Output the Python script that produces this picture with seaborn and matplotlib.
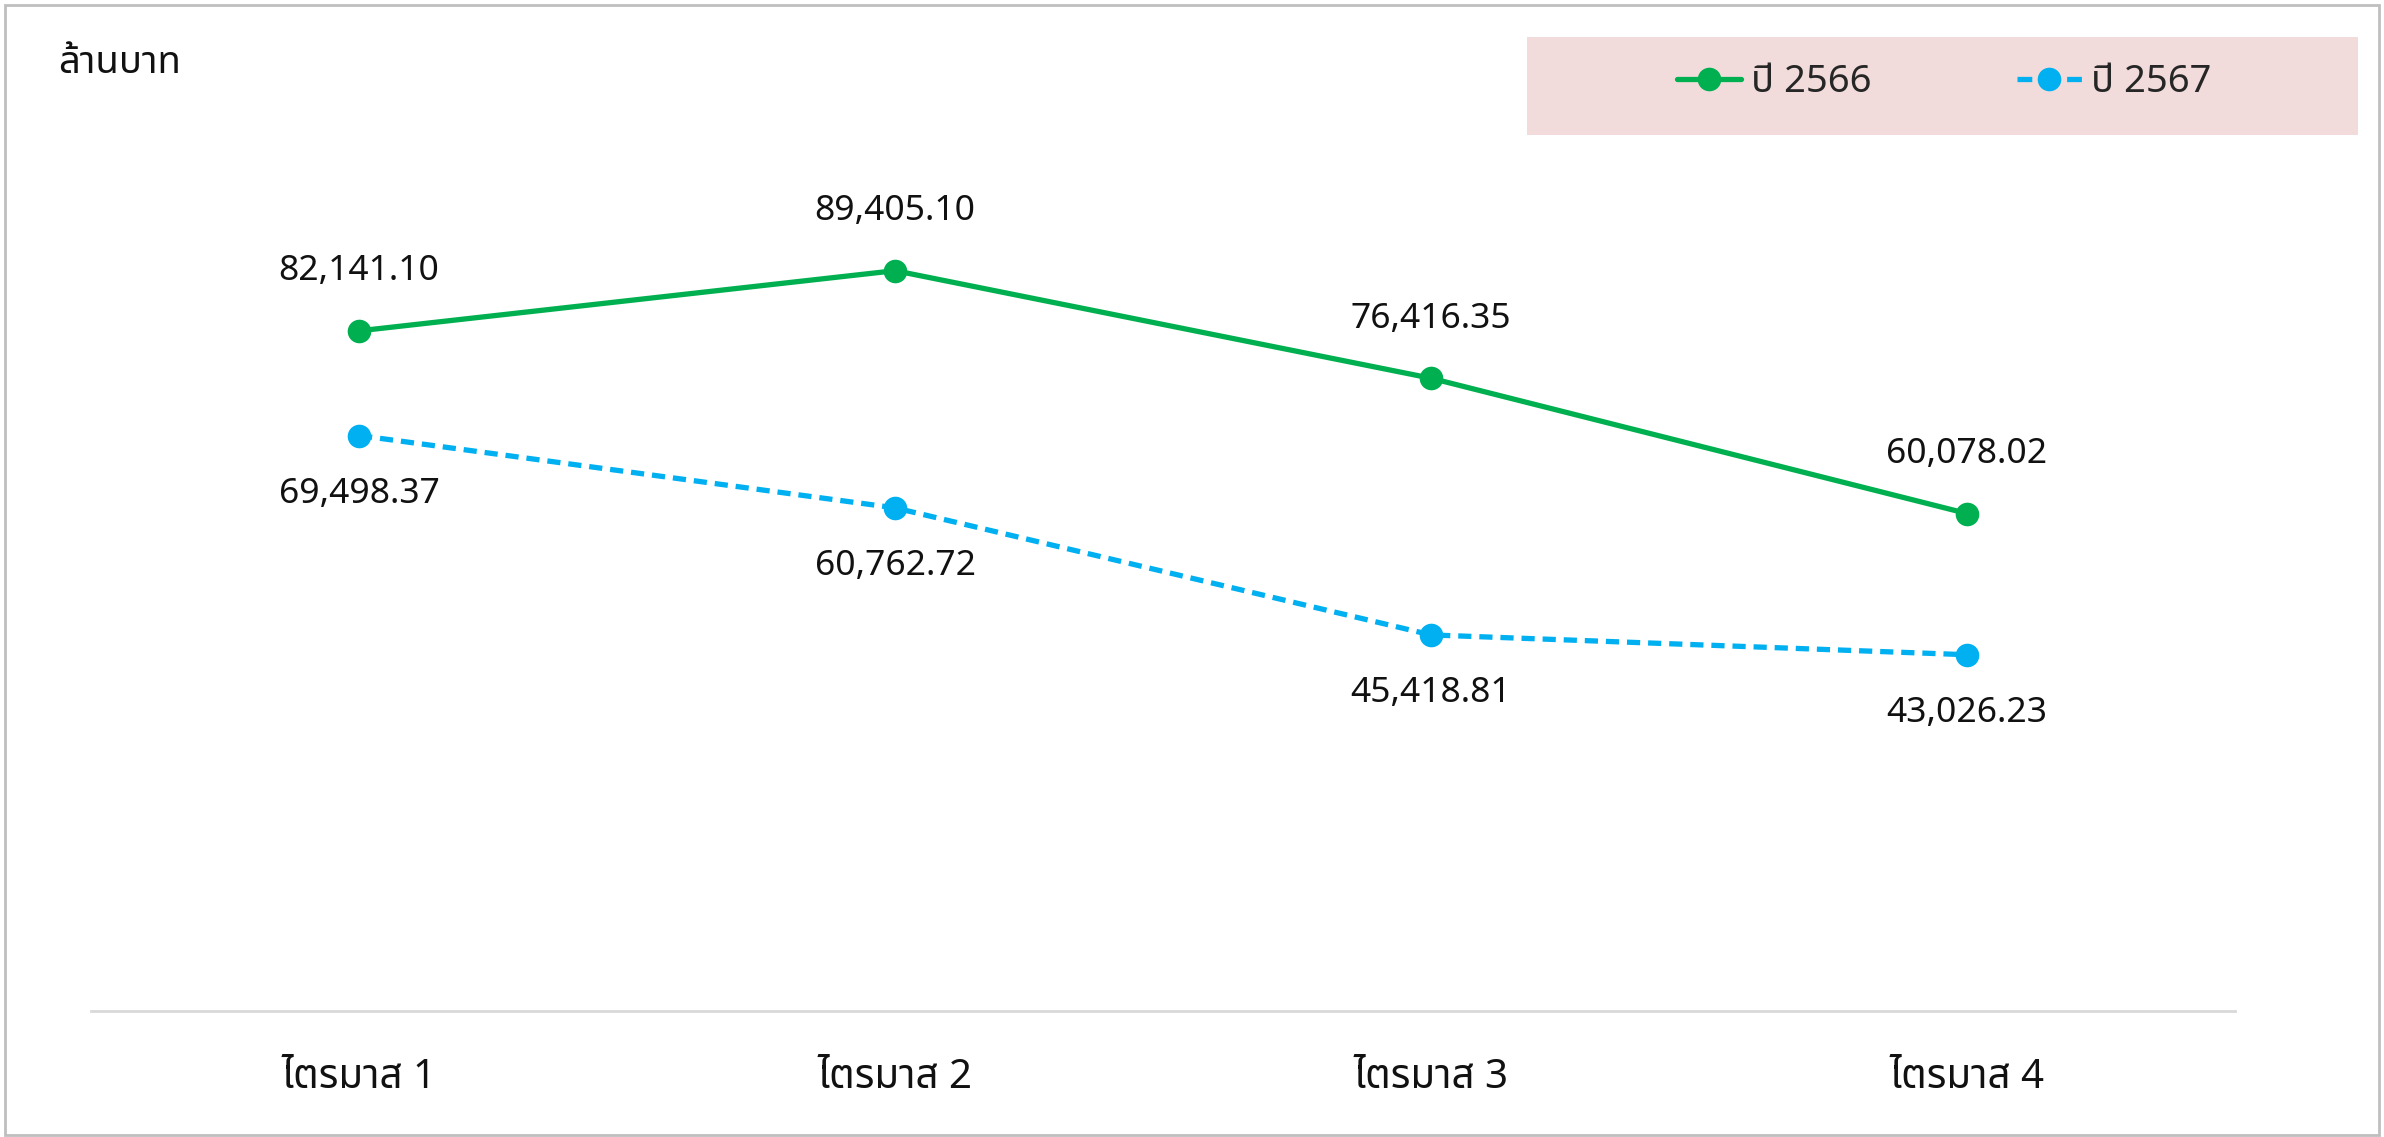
import matplotlib
matplotlib.use("Agg")
import matplotlib.pyplot as plt
import seaborn as sns
import pandas as pd
from matplotlib.patches import Rectangle

quarters = ["ไตรมาส 1", "ไตรมาส 2", "ไตรมาส 3", "ไตรมาส 4"]
years = ["ปี 2566", "ปี 2567"]
values_2566 = [82141.10, 89405.10, 76416.35, 60078.02]
values_2567 = [69498.37, 60762.72, 45418.81, 43026.23]
colors = {"ปี 2566": "#00B050", "ปี 2567": "#00B0F0"}

df = pd.DataFrame({
    "quarter": quarters * 2,
    "year": [years[0]] * 4 + [years[1]] * 4,
    "value": values_2566 + values_2567,
})

sns.set_theme(style="white")
plt.rcParams["font.family"] = ["Noto Sans Thai", "DejaVu Sans"]

fig = plt.figure(figsize=(23.84, 11.37), dpi=100)
ax = fig.add_axes([0.0382, 0.1108, 0.8993, 0.7283])

sns.lineplot(
    data=df, x="quarter", y="value", hue="year", style="year",
    palette=colors, markers={"ปี 2566": "o", "ปี 2567": "o"},
    dashes={"ปี 2566": "", "ปี 2567": (2.5, 1.5)},
    linewidth=3.8, markersize=17, markeredgewidth=0, sort=False, ax=ax,
)

# data labels: 2566 above, 2567 below
for q, v in zip(quarters, values_2566):
    ax.annotate(f"{v:,.2f}", (q, v), xytext=(0, 43), textcoords="offset points",
                ha="center", va="center", fontsize=25.5, color="#111111")
for q, v in zip(quarters, values_2567):
    ax.annotate(f"{v:,.2f}", (q, v), xytext=(0, -42), textcoords="offset points",
                ha="center", va="center", fontsize=25.5, color="#111111")

ax.set_xlim(-0.5, 3.5)
ax.set_ylim(0, 100000)
ax.set_xlabel("")
ax.set_ylabel("")
ax.set_yticks([])
ax.tick_params(axis="x", length=0, pad=34, labelsize=29, colors="#111111")
for lbl in ax.get_xticklabels():
    lbl.set_fontweight("medium")
for side in ["top", "left", "right"]:
    ax.spines[side].set_visible(False)
ax.spines["bottom"].set_color("#D9D9D9")
ax.spines["bottom"].set_linewidth(2)

# legend on a pink band
fig.patches.append(Rectangle((1527 / 2384, 1 - 135 / 1137), 831 / 2384, 98 / 1137,
                             transform=fig.transFigure, facecolor="#F2DCDB",
                             edgecolor="none", zorder=0))
handles, labels = ax.get_legend_handles_labels()
ax.get_legend().remove()
leg = fig.legend(handles, labels, loc="center", bbox_to_anchor=(1944 / 2384, 1 - 82 / 1137),
                 ncol=2, frameon=False, handlelength=1.7, handletextpad=0.25,
                 columnspacing=3.8, prop={"size": 27.5, "weight": "medium"})
# short dash on each side of the marker, like "-●-"
leg.get_lines()[1].set_dashes((2.8, 6.6))

fig.text(58 / 2384, 1 - 63 / 1137, "ล้านบาท", fontsize=27.5, va="center", ha="left",
         color="#111111")

# outer border
fig.patches.append(Rectangle((0.002, 0.002), 0.996, 0.994, transform=fig.transFigure,
                             facecolor="none", edgecolor="#BFBFBF", linewidth=2))

fig.savefig("out.png", dpi=100)
